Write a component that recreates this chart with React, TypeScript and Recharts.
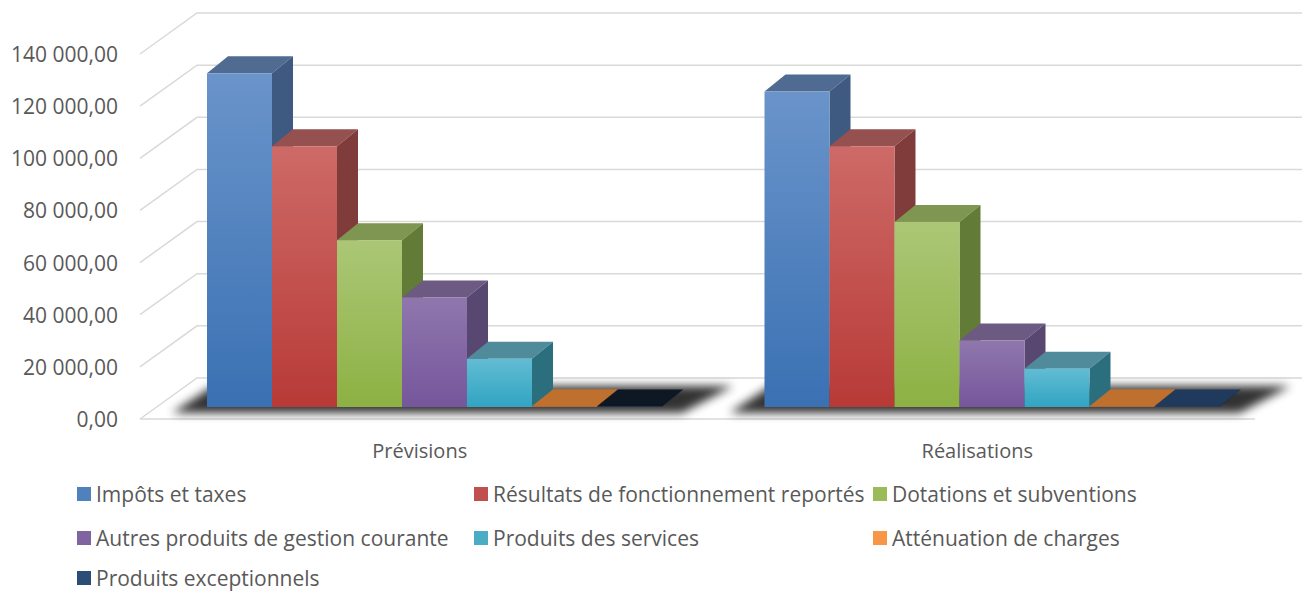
import { BarChart, Bar, XAxis, YAxis, CartesianGrid } from 'recharts'

const categories = ['Prévisions', 'Réalisations']
const impots = [128000, 121000]
const resultats = [100000, 100000]
const dotations = [64000, 71000]
const autres = [42000, 25500]
const services = [18500, 14700]
const attenuation = [300, 300]
const exceptionnels = [200, 200]

const seriesNames = [
  'Impôts et taxes',
  'Résultats de fonctionnement reportés',
  'Dotations et subventions',
  'Autres produits de gestion courante',
  'Produits des services',
  'Atténuation de charges',
  'Produits exceptionnels',
]
const seriesValues = [impots, resultats, dotations, autres, services, attenuation, exceptionnels]

// front gradient (top, bottom), top face, side face, legend swatch
const faces = [
  { hi: '#6a94ca', lo: '#3a71b3', top: '#4f6b92', side: '#3e5a80', key: '#4f81bd' },
  { hi: '#cd6a67', lo: '#b83a37', top: '#955050', side: '#7f3c3a', key: '#c0504d' },
  { hi: '#abc776', lo: '#8db143', top: '#7f9653', side: '#627c37', key: '#9bbb59' },
  { hi: '#8f77ad', lo: '#76569c', top: '#6c5a82', side: '#584770', key: '#8064a2' },
  { hi: '#62bcd3', lo: '#31a4c2', top: '#508b9b', side: '#2b6e7d', key: '#4bacc6' },
  { hi: '#c7742f', lo: '#c7742f', top: '#c0702e', side: '#9a5a25', key: '#f79646' },
  { hi: '#1f3a5c', lo: '#1f3a5c', top: '#1f3a5c', side: '#172b44', key: '#2c4d75' },
]

const data = categories.map((name, i) => {
  const row: any = { name }
  seriesValues.forEach((vals, s) => (row['s' + s] = vals[i]))
  return row
})

const DX = 21
const DY = -17
const TEXT = '#595959'
const FONT = '"Open Sans", sans-serif'

const fmt = (v: number) => {
  const s = String(Math.round(v))
  return s.replace(/\B(?=(\d{3})+(?!\d))/g, ' ') + ',00'
}

const Bar3D = (props: any) => {
  const { x, y, width, height, s, index } = props
  const f = faces[s]
  const base = y + height
  // the last flat bar of the first group sits in the floor shadow in the original
  const topFill = s === 6 && index === 0 ? '#0d1824' : f.top
  return (
    <g>
      {s === 0 && (
        <polygon
          points={`${x - 35},${base + 6} ${x + 7 * width + 20},${base + 6} ${x + 7 * width + DX + 50},${base + DY - 4} ${x + DX - 15},${base + DY - 4}`}
          fill="#000"
          opacity={0.8}
          filter="url(#floorShadow)"
        />
      )}
      <polygon
        points={`${x},${y} ${x + DX},${y + DY} ${x + width + DX},${y + DY} ${x + width},${y}`}
        fill={topFill}
      />
      <polygon
        points={`${x + width},${y} ${x + width + DX},${y + DY} ${x + width + DX},${base + DY} ${x + width},${base}`}
        fill={f.side}
      />
      <rect x={x} y={y} width={width} height={height} fill={`url(#grad${s})`} />
    </g>
  )
}

const GridLine = (props: any) => {
  const { x1, y1, x2 } = props
  const isBase = Math.abs(y1 - 407) < 2
  return (
    <g key={'g' + y1}>
      <path
        d={`M ${x1 - 17} ${y1 + 12} L ${x1 + 40} ${y1 - 29} L 1302 ${y1 - 29}`}
        stroke="#d9d9d9"
        strokeWidth={1.5}
        fill="none"
      />
      {isBase && (
        <line x1={x1 - 17} y1={y1 + 12} x2={x2 - 17} y2={y1 + 12} stroke="#d9d9d9" strokeWidth={1.5} />
      )}
    </g>
  )
}

const YTick = ({ y, payload }: any) => (
  <text x={118} y={y + 12} textAnchor="end" dominantBaseline="central" fill={TEXT} fontSize={21} fontFamily={FONT}>
    {fmt(payload.value)}
  </text>
)

const XTick = ({ x, payload }: any) => (
  <text x={x - 16} y={450} textAnchor="middle" dominantBaseline="central" fill={TEXT} fontSize={20} fontFamily={FONT}>
    {payload.value}
  </text>
)

const legendCols = [77, 474, 873]
const legendRows = [494, 538, 578]

export default function App() {
  return (
    <div style={{ position: 'absolute', left: 0, top: 0, width: 1302, height: 593, background: '#fff', overflow: 'hidden' }}>
      <BarChart
        width={1302}
        height={470}
        data={data}
        margin={{ top: 42, right: 30, bottom: 23, left: 0 }}
        barCategoryGap={50}
        barGap={0}
      >
        <defs>
          {faces.map((f, i) => (
            <linearGradient key={i} id={'grad' + i} x1="0" y1="0" x2="0" y2="1">
              <stop offset="0%" stopColor={f.hi} />
              <stop offset="100%" stopColor={f.lo} />
            </linearGradient>
          ))}
          <filter id="floorShadow" x="-20%" y="-100%" width="140%" height="300%">
            <feGaussianBlur stdDeviation="5" />
          </filter>
        </defs>
        <CartesianGrid vertical={false} horizontal={(p: any) => <GridLine {...p} />} />
        <XAxis dataKey="name" axisLine={false} tickLine={false} height={40} tick={<XTick />} />
        <YAxis
          domain={[0, 140000]}
          ticks={[0, 20000, 40000, 60000, 80000, 100000, 120000, 140000]}
          axisLine={false}
          tickLine={false}
          width={157}
          tick={<YTick />}
        />
        {seriesNames.map((n, s) => (
          <Bar
            key={n}
            dataKey={'s' + s}
            name={n}
            isAnimationActive={false}
            shape={(p: any) => <Bar3D {...p} s={s} />}
          />
        ))}
      </BarChart>
      {seriesNames.map((n, i) => (
        <div
          key={n}
          style={{
            position: 'absolute',
            left: legendCols[i % 3],
            top: legendRows[Math.floor(i / 3)] - 15,
            height: 30,
            display: 'flex',
            alignItems: 'center',
            fontFamily: FONT,
            fontSize: 21,
            color: TEXT,
            whiteSpace: 'nowrap',
          }}
        >
          <span style={{ display: 'inline-block', width: 14, height: 14, background: faces[i].key, marginRight: 5 }} />
          {n}
        </div>
      ))}
    </div>
  )
}
